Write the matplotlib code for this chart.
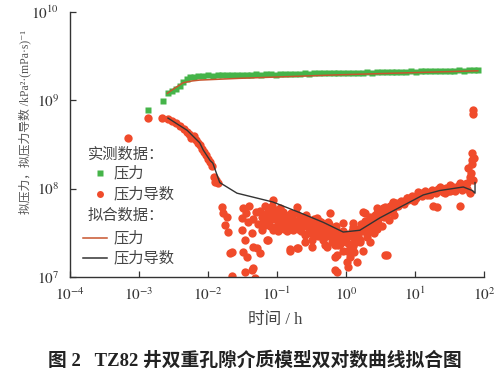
import numpy as np
import matplotlib
matplotlib.use("Agg")
import matplotlib.pyplot as plt

plt.rcParams['font.family'] = ['Noto Sans CJK SC', 'DejaVu Sans']
plt.rcParams['mathtext.fontset'] = 'stix'

# Data (log10 of time in h, log10 of pseudo pressure / derivative)
# measured pressure
p_meas = [(-2.87, 8.89), (-2.65, 8.99), (-2.58, 9.08), (-2.52, 9.11), (-2.46, 9.13),
          (-2.41, 9.16), (-2.36, 9.21), (-2.31, 9.24), (-2.26, 9.26), (-2.20, 9.27),
          (-2.14, 9.28), (-2.07, 9.28), (-2.00, 9.285), (-1.93, 9.28), (-1.86, 9.285),
          (-1.79, 9.29), (-1.72, 9.285), (-1.65, 9.29), (-1.58, 9.29), (-1.51, 9.285),
          (-1.44, 9.29), (-1.37, 9.29), (-1.30, 9.295), (-1.23, 9.29), (-1.16, 9.295),
          (-1.09, 9.295), (-1.02, 9.29), (-0.95, 9.30), (-0.88, 9.295), (-0.81, 9.30),
          (-0.74, 9.30), (-0.67, 9.30), (-0.60, 9.305), (-0.53, 9.30), (-0.46, 9.305),
          (-0.39, 9.305), (-0.32, 9.31), (-0.25, 9.305), (-0.18, 9.31), (-0.11, 9.31),
          (-0.04, 9.31), (0.03, 9.315), (0.10, 9.31), (0.17, 9.315), (0.24, 9.315),
          (0.31, 9.32), (0.38, 9.315), (0.45, 9.32), (0.52, 9.32), (0.59, 9.32),
          (0.66, 9.325), (0.73, 9.32), (0.80, 9.325), (0.87, 9.325), (0.94, 9.33),
          (1.01, 9.325), (1.08, 9.33), (1.15, 9.33), (1.22, 9.33), (1.29, 9.335),
          (1.36, 9.33), (1.43, 9.335), (1.50, 9.335), (1.57, 9.335), (1.64, 9.34),
          (1.71, 9.335), (1.78, 9.34), (1.85, 9.34), (1.91, 9.345)]

# measured pressure derivative
d_meas = [(-3.16, 8.57), (-2.87, 8.80), (-2.67, 8.80), (-2.58, 8.79), (-2.52, 8.77),
          (-2.46, 8.74), (-2.40, 8.71), (-2.35, 8.68), (-2.30, 8.64), (-2.27, 8.62),
          (-2.24, 8.58), (-2.21, 8.60), (-2.18, 8.55), (-2.15, 8.52), (-2.12, 8.49),
          (-2.09, 8.45), (-2.06, 8.42), (-2.03, 8.38), (-2.00, 8.34), (-1.97, 8.30),
          (-1.94, 8.26), (-1.92, 8.13), (-1.90, 8.08), (-1.88, 8.10), (-1.86, 8.06),
          (-1.80, 7.79), (-1.78, 7.73), (-1.72, 7.68), (-1.75, 7.59), (-1.71, 7.51),
          (-1.65, 7.28), (-1.68, 7.27), (-1.51, 7.67), (-1.42, 7.62), (-1.51, 7.53),
          (-1.46, 7.42), (-1.49, 7.28), (-1.43, 7.23), (-1.35, 7.34), (-1.29, 7.33),
          (-1.25, 7.27), (-1.36, 7.50), (-1.36, 7.08), (-1.46, 7.06), (-1.65, 7.01),
          (-1.22, 7.53), (-1.17, 7.59), (-1.14, 7.72), (-1.13, 7.78), (-1.07, 7.81),
          (-1.13, 7.42), (-1.06, 7.53), (-0.96, 7.70), (-0.93, 7.62), (-0.86, 7.68),
          (-0.81, 7.62), (-0.77, 7.53), (-0.81, 7.32), (-0.71, 7.33), (-0.71, 7.79),
          (-0.62, 7.68), (-0.57, 7.59), (-0.52, 7.53), (-0.49, 7.34), (-0.42, 7.67),
          (-0.38, 7.57), (-0.33, 7.50), (-0.28, 7.34), (-0.23, 7.72), (-0.19, 7.53),
          (-0.13, 7.42), (-0.16, 7.23), (-0.04, 7.61), (-0.06, 7.45), (0.01, 7.30),
          (-0.13, 7.06), (-1.06, 7.87), (-1.35, 7.10), (-1.32, 6.99), (-1.10, 7.72),
          (-1.14, 7.42), (-0.81, 7.30), (-0.70, 7.33), (-0.16, 7.36), (-0.13, 7.25),
          (-0.16, 7.08), (0.01, 7.17), (0.03, 7.11), (0.16, 7.17), (0.57, 7.25),
          (0.10, 7.61), (0.28, 7.72), (0.45, 7.78), (0.57, 7.79), (0.68, 7.84),
          (0.88, 7.89), (1.22, 7.93), (1.26, 7.81), (1.43, 7.95), (1.51, 7.98),
          (1.65, 7.81), (1.70, 8.02), (1.84, 8.10), (0.06, 7.23), (0.59, 7.25),
          (1.32, 7.79), (1.83, 8.40), (1.83, 8.32), (1.77, 8.24), (1.80, 8.13),
          (1.75, 8.07), (1.65, 8.06), (1.51, 8.04), (1.36, 8.02), (1.22, 7.96),
          (1.07, 7.95), (0.88, 7.90), (0.68, 7.85), (0.54, 7.78), (0.45, 7.72),
          (0.30, 7.64), (0.25, 7.74), (0.10, 7.57), (0.49, 7.76), (1.84, 8.89),
          (1.84, 8.85),
          (-1.50, 7.78), (-1.45, 7.72), (-1.40, 7.80), (-1.35, 7.66), (-1.30, 7.74),
          (-1.27, 7.60), (-1.22, 7.68), (-1.18, 7.80), (-1.12, 7.63), (-1.08, 7.70),
          (-1.03, 7.76), (-1.00, 7.58), (-0.97, 7.64), (-0.92, 7.74), (-0.90, 7.55),
          (-0.86, 7.60), (-0.83, 7.70), (-0.78, 7.66), (-0.75, 7.58), (-0.72, 7.72),
          (-0.68, 7.62), (-0.65, 7.52), (-0.60, 7.64), (-0.58, 7.70), (-0.55, 7.50),
          (-0.50, 7.60), (-0.47, 7.66), (-0.44, 7.55), (-0.40, 7.47), (-0.36, 7.62),
          (-0.31, 7.58), (-0.27, 7.46), (-0.25, 7.60), (-0.21, 7.40), (-0.18, 7.50),
          (-0.14, 7.58), (-0.10, 7.47), (-0.08, 7.38), (-0.05, 7.52), (-0.02, 7.42),
          (0.02, 7.48), (0.05, 7.38), (0.08, 7.52), (0.12, 7.44), (0.15, 7.55),
          (0.18, 7.47), (0.22, 7.60), (0.25, 7.52), (0.28, 7.64), (0.32, 7.57),
          (0.35, 7.68), (0.38, 7.62), (0.42, 7.70), (0.46, 7.66), (0.50, 7.74),
          (0.53, 7.70), (0.57, 7.76), (0.60, 7.72), (0.64, 7.80), (0.68, 7.77),
          (0.72, 7.84), (0.76, 7.80), (0.80, 7.86), (0.84, 7.83), (0.90, 7.87),
          (0.95, 7.92), (0.98, 7.86), (1.02, 7.90), (1.05, 7.96), (1.10, 7.92),
          (1.14, 7.98), (1.18, 7.93), (1.25, 7.99), (1.30, 7.95), (1.34, 8.00),
          (1.40, 7.96), (1.45, 8.01), (1.48, 7.97), (1.55, 8.02), (1.58, 7.98),
          (1.62, 8.03), (1.68, 7.99), (1.72, 8.05), (1.76, 8.00), (1.79, 7.95),
          (1.81, 8.18), (1.82, 8.28), (1.85, 8.35),
          (0.10, 7.35), (0.20, 7.40), (0.30, 7.45), (0.40, 7.50), (0.45, 7.55),
          (0.52, 7.58), (0.62, 7.65), (0.70, 7.70), (0.35, 7.40), (0.25, 7.30),
          (-1.24, 7.75), (-1.20, 7.62), (-1.16, 7.70), (-1.10, 7.58), (-1.05, 7.66),
          (-1.02, 7.72), (-0.98, 7.52), (-0.95, 7.78), (-0.92, 7.58), (-0.88, 7.64),
          (-0.85, 7.52), (-0.80, 7.72), (-0.78, 7.56), (-0.74, 7.64), (-0.70, 7.54),
          (-0.66, 7.68), (-0.63, 7.58), (-0.60, 7.48), (-0.56, 7.66), (-0.53, 7.56),
          (-0.49, 7.62), (-0.46, 7.48), (-0.42, 7.58), (-0.39, 7.64), (-0.35, 7.52),
          (-0.33, 7.42), (-0.29, 7.55), (-0.26, 7.62), (-0.23, 7.48), (-0.20, 7.56),
          (-0.17, 7.44), (-0.13, 7.52), (-0.11, 7.36), (-0.07, 7.44), (-0.03, 7.50),
          (0.00, 7.40), (0.04, 7.46), (0.07, 7.32), (0.11, 7.50), (0.14, 7.40),
          (0.18, 7.52), (0.21, 7.42), (0.24, 7.56), (0.30, 7.50), (0.34, 7.58),
          (0.39, 7.56), (0.43, 7.63), (0.47, 7.60), (0.55, 7.68), (0.62, 7.74),
          (-0.50, 7.42), (-0.30, 7.36), (-0.60, 7.40), (0.12, 7.28), (-0.04, 7.30)]

# fitted curves
p_fit = [(-2.59, 9.08), (-2.48, 9.14), (-2.36, 9.20), (-2.23, 9.22), (-2.12, 9.23),
         (-1.54, 9.25), (-0.09, 9.29), (1.00, 9.315), (1.91, 9.335)]
d_fit = [(-2.58, 8.80), (-2.30, 8.66), (-2.12, 8.52), (-2.07, 8.44), (-1.97, 8.32),
         (-1.93, 8.29), (-1.83, 8.07), (-1.58, 7.95), (-1.06, 7.85), (-0.67, 7.73),
         (-0.33, 7.62), (-0.04, 7.51), (0.20, 7.53), (0.49, 7.67), (0.78, 7.79),
         (1.12, 7.93), (1.36, 7.98), (1.70, 8.02), (1.83, 7.98), (1.87, 7.95),
         (1.87, 8.07)]

xticks = [1e-4, 1e-3, 1e-2, 1e-1, 1e0, 1e1, 1e2]
xtick_labels = [r'$10^{-4}$', r'$10^{-3}$', r'$10^{-2}$', r'$10^{-1}$', r'$10^{0}$', r'$10^{1}$', r'$10^{2}$']
yticks = [1e7, 1e8, 1e9, 1e10]
ytick_labels = [r'$10^{7}$', r'$10^{8}$', r'$10^{9}$', r'$10^{10}$']

def unpack(pairs):
    a = np.array(pairs).T
    return 10 ** a[0], 10 ** a[1]

green = '#45b449'
red = '#f04b2b'
redline = '#c8552e'
dark = '#333333'

fig = plt.figure(figsize=(5, 3.77), dpi=100)
ax = fig.add_axes([0.14, 0.265, 0.828, 0.703])

x, y = unpack(p_meas)
ax.plot(x, y, 's', color=green, ms=4.5, mec='none', zorder=2)
x, y = unpack(d_meas)
ax.plot(x, y, 'o', color=red, ms=6, mec='none', zorder=2)
x, y = unpack(p_fit)
ax.plot(x, y, '-', color=redline, lw=1.1, zorder=3)
x, y = unpack(d_fit)
ax.plot(x, y, '-', color=dark, lw=1.0, zorder=4)

ax.set_xscale('log')
ax.set_yscale('log')
ax.set_xlim(1e-4, 1e2)
ax.set_ylim(1e7, 1e10)
ax.set_xticks(xticks, xtick_labels)
ax.set_yticks(yticks, ytick_labels)
ax.minorticks_off()
ax.tick_params(direction='in', length=4, width=0.9, color=dark, labelsize=11, labelcolor=dark)
ax.tick_params(axis='x', pad=7)
ax.tick_params(axis='y', pad=8)
for s in ['top', 'right']:
    ax.spines[s].set_visible(False)
for s in ['left', 'bottom']:
    ax.spines[s].set_color(dark)
    ax.spines[s].set_linewidth(1.0)

# hand-made legend
tc = '#444444'
fs = 11
ax.text(0.043, 0.464, '实测数据：', transform=ax.transAxes, fontsize=fs, color=tc, va='center')
ax.plot([0.072], [0.392], 's', color=green, ms=4, mec='none', transform=ax.transAxes)
ax.text(0.104, 0.392, '压力', transform=ax.transAxes, fontsize=fs, color=tc, va='center')
ax.plot([0.072], [0.313], 'o', color=red, ms=5, mec='none', transform=ax.transAxes)
ax.text(0.104, 0.313, '压力导数', transform=ax.transAxes, fontsize=fs, color=tc, va='center')
ax.text(0.043, 0.234, '拟合数据：', transform=ax.transAxes, fontsize=fs, color=tc, va='center')
ax.plot([0.031, 0.089], [0.147, 0.147], '-', color=redline, lw=1.1, transform=ax.transAxes)
ax.text(0.104, 0.147, '压力', transform=ax.transAxes, fontsize=fs, color=tc, va='center')
ax.plot([0.031, 0.089], [0.072, 0.072], '-', color=dark, lw=1.1, transform=ax.transAxes)
ax.text(0.104, 0.072, '压力导数', transform=ax.transAxes, fontsize=fs, color=tc, va='center')

serif_cjk = ['Liberation Serif', 'Noto Sans CJK SC', 'DejaVu Sans']
fig.text(0.05, 0.676, '拟压力，拟压力导数 /kPa²·(mPa·s)⁻¹', rotation=90, ha='center', va='center',
         fontsize=8.5, color='#555555', family=serif_cjk)
fig.text(0.55, 0.151, '时间 / h', ha='center', va='center', fontsize=12, color=tc, family=serif_cjk)
fig.text(0.51, 0.043, '图 2   TZ82 井双重孔隙介质模型双对数曲线拟合图', ha='center', va='center',
         fontsize=13.5, fontweight='bold', color='#222222', family=serif_cjk)

fig.savefig('out.png', dpi=100)
